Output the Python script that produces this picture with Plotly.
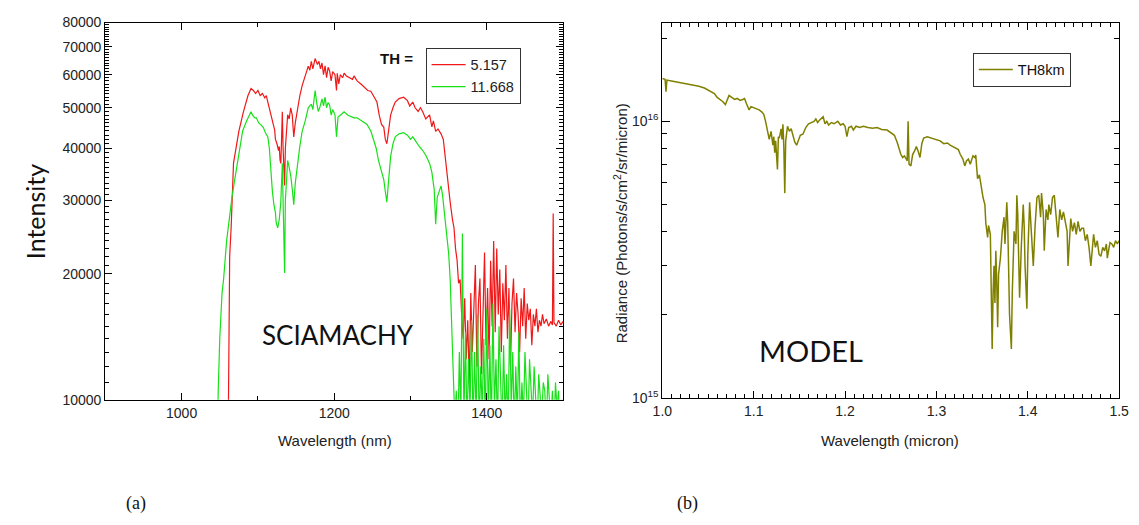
import plotly.graph_objects as go

# ---------------- Panel (a): SCIAMACHY ----------------
red_nm = [1055, 1060, 1061, 1063, 1065, 1068, 1072, 1075, 1081, 1087, 1091, 1094, 1097, 1100, 1103,
          1106, 1109, 1111, 1113, 1114, 1117, 1120, 1122, 1123, 1125, 1127, 1128, 1129, 1130, 1131,
          1132, 1133, 1135, 1136, 1139, 1141, 1143, 1145, 1147, 1149, 1152, 1155, 1158, 1160, 1162,
          1164, 1166, 1168, 1170, 1172, 1175, 1178, 1180, 1182, 1184, 1186, 1188, 1190, 1192, 1194,
          1196, 1198, 1201, 1203, 1204, 1206, 1208, 1211, 1213, 1216, 1220, 1224, 1226, 1230, 1235,
          1240, 1244, 1248, 1252, 1256, 1259, 1262, 1265, 1267, 1269, 1271, 1274, 1277, 1280, 1285,
          1291, 1296, 1299, 1303, 1306, 1310, 1313, 1316, 1320, 1325, 1328, 1330, 1333, 1336, 1340,
          1343, 1345, 1348, 1350, 1352, 1355, 1357, 1359, 1361, 1363, 1365, 1367, 1369, 1371, 1373,
          1375, 1377, 1379, 1381, 1383, 1385, 1387, 1389, 1391, 1393, 1395, 1397, 1399, 1401, 1403,
          1405, 1407, 1409, 1411, 1413, 1415, 1417, 1419, 1421, 1423, 1425, 1427, 1429, 1431, 1433,
          1435, 1437, 1439, 1441, 1443, 1445, 1447, 1449, 1451, 1453, 1455, 1457, 1459, 1461, 1463,
          1465, 1467, 1469, 1471, 1473, 1475, 1478, 1481, 1484, 1486, 1487, 1488, 1491, 1494, 1497,
          1500]
red_val = [8000, 8000, 8000, 22000, 26000, 36800, 41000, 43900, 48900, 53500, 55600, 55000, 54100, 55000, 53500,
           54100, 52800, 53500, 51600, 50700, 48000, 45600, 44200, 42000, 41000, 39500, 40400, 37500, 36800, 42000,
           48900, 40000, 32600, 40000, 48100, 47000, 50000, 48000, 42600, 46000, 50000, 53500, 56500, 58500, 59600,
           61200, 62900, 61500, 64600, 62000, 65600, 63500, 64600, 62000, 64000, 60000, 63000, 59000, 62500, 61200,
           58000, 61000, 60000, 55000, 60500, 57000, 60000, 59000, 60500, 59600, 59000, 58500, 59600, 58000, 57000,
           56000, 55000, 54800, 53000, 51600, 48000, 45600, 44900, 42000, 41000, 44000, 48100, 50000, 51600, 52600,
           53000, 52000, 50500, 51600, 50000, 49000, 50000, 48900, 47000, 48100, 45000, 46500, 43900, 44500, 43300,
           42000, 38900, 34400, 31000, 29700, 27000, 25800, 23000, 21600, 19000, 19400, 16000, 14000, 17500, 12500,
           15500, 11000, 18000, 13000, 16500, 21000, 12000, 17000, 19500, 11500, 16000, 22500, 13500, 18500, 12500,
           21500, 15000, 24000, 14500, 23000, 16000, 20500, 13000, 19000, 15500, 21000, 14000, 18500, 12000, 17000,
           19500, 14500, 18000, 16000, 13000, 17500, 15000, 18500, 14000, 17000, 15500, 16500, 13500, 16000, 15000,
           16500, 14500, 15500, 15000, 16000, 15200, 15600, 15000, 15400, 15100, 27900, 15300, 15000, 15500, 15100,
           15400]

green_nm = [1044, 1047, 1048, 1050, 1053, 1055, 1059, 1063, 1066, 1069, 1072, 1076, 1080, 1085, 1088,
            1091, 1093, 1096, 1098, 1101, 1104, 1107, 1110, 1113, 1115, 1117, 1119, 1121, 1123, 1124,
            1126, 1128, 1130, 1132, 1133, 1135, 1136, 1139, 1141, 1143, 1145, 1147, 1149, 1152, 1155,
            1158, 1162, 1166, 1170, 1172, 1175, 1177, 1179, 1181, 1184, 1186, 1188, 1190, 1192, 1194,
            1196, 1198, 1201, 1203, 1205, 1208, 1213, 1218, 1222, 1226, 1230, 1236, 1243, 1248, 1252,
            1255, 1258, 1261, 1265, 1267, 1269, 1271, 1274, 1277, 1280, 1285, 1291, 1296, 1300, 1303,
            1307, 1311, 1316, 1320, 1325, 1328, 1331, 1333, 1335, 1338, 1340, 1342, 1344, 1346, 1348,
            1350, 1352, 1354, 1356, 1358, 1360, 1362, 1364, 1366, 1368, 1370, 1372, 1374, 1376, 1378,
            1380, 1382, 1384, 1386, 1388, 1390, 1392, 1394, 1396, 1398, 1400, 1402, 1404, 1406, 1408,
            1410, 1412, 1414, 1416, 1418, 1420, 1422, 1424, 1426, 1428, 1430, 1432, 1434, 1436, 1438,
            1440, 1442, 1444, 1446, 1448, 1450, 1452, 1454, 1456, 1458, 1460, 1462, 1464, 1466, 1468,
            1470, 1472, 1474, 1476, 1478, 1480, 1482, 1484, 1486, 1488, 1490, 1492, 1494, 1496, 1498,
            1500]
green_val = [8000, 8500, 10500, 14000, 18000, 19400, 24000, 27800, 30500, 33100, 36000, 40400, 44000, 46400, 47500,
             48900, 48000, 47300, 47300, 46000, 45500, 44900, 43500, 42600, 40000, 34900, 31500, 29300, 28000, 26500,
             25800, 27000, 29700, 36800, 30000, 20100, 30000, 37400, 36000, 34400, 32000, 29300, 33000, 36800, 40500,
             43900, 46500, 50000, 51000, 49500, 55000, 51500, 49000, 50000, 52500, 50500, 53000, 50000, 51500, 50700,
             48000, 49500, 48100, 42600, 47500, 48000, 48900, 48000, 47700, 47300, 47300, 46500, 45600, 44000, 41700,
             40000, 37400, 35500, 33600, 31500, 29700, 33000, 38300, 41000, 42600, 43300, 43600, 43000, 42000, 42600,
             41500, 40500, 39500, 38500, 36800, 35000, 31900, 26300, 30500, 31900, 32500, 30900, 28500, 25800, 23500,
             22400, 19400, 15000, 12000, 9000, 10500, 8000, 13000, 9000, 25000, 9000, 14500, 8500, 12500, 9500,
             15500, 8500, 13000, 9000, 16000, 8500, 12000, 9500, 14000, 8500, 16500, 9000, 13500, 8500, 17000,
             9500, 12500, 8500, 15000, 10000, 8500, 13500, 9000, 11500, 8500, 16500, 9500, 13000, 8500, 12000,
             9000, 14500, 8500, 11000, 9000, 13000, 10500, 8500, 12500, 11000, 9000, 12000, 10500, 8500, 11500,
             10000, 9000, 11000, 10500, 8500, 11500, 10000, 9000, 10500, 8500, 11000, 9500, 10500, 8500, 10000,
             9500]

a_yticks = [10000, 20000, 30000, 40000, 50000, 60000, 70000, 80000]
a_xticks = [1000, 1200, 1400]
legend_a = ["5.157", "11.668"]

# ---------------- Panel (b): MODEL ----------------
model_um = [1.000, 1.003, 1.004, 1.005, 1.010, 1.015, 1.020, 1.025, 1.030, 1.035, 1.040, 1.046, 1.050, 1.054, 1.057,
            1.060, 1.063, 1.066, 1.069, 1.071, 1.073, 1.076, 1.079, 1.082, 1.085, 1.088, 1.090, 1.092, 1.095, 1.097,
            1.100, 1.103, 1.106, 1.109, 1.111, 1.113, 1.114, 1.116, 1.117, 1.119, 1.121, 1.122, 1.123, 1.124, 1.126,
            1.127, 1.128, 1.130, 1.131, 1.132, 1.133, 1.134, 1.135, 1.137, 1.139, 1.141, 1.143, 1.145, 1.147, 1.149,
            1.151, 1.154, 1.157, 1.160, 1.163, 1.166, 1.168, 1.170, 1.172, 1.176, 1.178, 1.180, 1.182, 1.185, 1.188,
            1.192, 1.195, 1.198, 1.200, 1.202, 1.204, 1.207, 1.209, 1.212, 1.216, 1.220, 1.225, 1.230, 1.235, 1.240,
            1.246, 1.250, 1.254, 1.257, 1.259, 1.261, 1.263, 1.265, 1.267, 1.268, 1.269, 1.270, 1.272, 1.274, 1.276,
            1.278, 1.280, 1.282, 1.284, 1.286, 1.290, 1.294, 1.297, 1.300, 1.304, 1.308, 1.312, 1.315, 1.318, 1.321,
            1.324, 1.326, 1.329, 1.331, 1.333, 1.335, 1.337, 1.340, 1.342, 1.343, 1.345, 1.347, 1.349, 1.351, 1.353,
            1.354, 1.356, 1.357, 1.359, 1.360, 1.361, 1.362, 1.363, 1.364, 1.365, 1.366, 1.367, 1.368, 1.370, 1.372,
            1.374, 1.375, 1.377, 1.378, 1.379, 1.380, 1.382, 1.383, 1.385, 1.387, 1.388, 1.389, 1.390, 1.391, 1.393,
            1.395, 1.396, 1.397, 1.399, 1.400, 1.402, 1.404, 1.406, 1.408, 1.410, 1.412, 1.414, 1.415, 1.417, 1.418,
            1.420, 1.422, 1.423, 1.425, 1.427, 1.429, 1.431, 1.433, 1.435, 1.437, 1.439, 1.441, 1.443, 1.444, 1.446,
            1.447, 1.449, 1.451, 1.453, 1.455, 1.457, 1.459, 1.461, 1.463, 1.465, 1.467, 1.469, 1.471, 1.472, 1.474,
            1.476, 1.478, 1.480, 1.482, 1.484, 1.486, 1.487, 1.489, 1.490, 1.492, 1.494, 1.496, 1.498, 1.500]
model_val = [1.43e16, 1.42e16, 1.28e16, 1.41e16, 1.40e16, 1.39e16, 1.38e16, 1.37e16, 1.36e16, 1.355e16, 1.34e16, 1.32e16, 1.30e16, 1.28e16, 1.26e16,
             1.22e16, 1.20e16, 1.18e16, 1.15e16, 1.20e16, 1.24e16, 1.22e16, 1.20e16, 1.21e16, 1.19e16, 1.20e16, 1.21e16, 1.16e16, 1.10e16, 1.13e16,
             1.12e16, 1.11e16, 1.10e16, 1.08e16, 1.06e16, 1.00e16, 9.6e15, 9.0e15, 8.6e15, 9.2e15, 8.2e15, 8.8e15, 7.7e15, 8.5e15, 6.7e15,
             8.8e15, 8.7e15, 9.4e15, 8.6e15, 9.76e15, 8.0e15, 5.5e15, 8.5e15, 9.6e15, 9.2e15, 9.4e15, 8.8e15, 8.4e15, 8.2e15, 8.6e15,
             8.9e15, 9.0e15, 9.5e15, 9.8e15, 9.9e15, 1.0e16, 1.02e16, 9.9e15, 1.01e16, 1.04e16, 9.8e15, 1.0e16, 9.7e15, 9.9e15, 9.8e15,
             1.0e16, 9.7e15, 9.8e15, 9.6e15, 8.8e15, 9.5e15, 9.6e15, 9.3e15, 9.6e15, 9.5e15, 9.6e15, 9.5e15, 9.45e15, 9.5e15, 9.35e15,
             9.3e15, 9.1e15, 8.9e15, 8.4e15, 8.0e15, 7.6e15, 7.4e15, 7.5e15, 7.3e15, 7.2e15, 1.0e16, 7.0e15, 6.9e15, 7.6e15, 7.8e15,
             8.1e15, 7.8e15, 7.4e15, 8.3e15, 8.7e15, 8.8e15, 8.7e15, 8.65e15, 8.6e15, 8.5e15, 8.3e15, 8.35e15, 8.2e15, 8.1e15, 8.0e15,
             7.9e15, 7.6e15, 7.3e15, 6.9e15, 7.2e15, 7.3e15, 7.0e15, 7.5e15, 7.4e15, 7.55e15, 6.2e15, 6.4e15, 5.7e15, 5.3e15, 5.0e15,
             4.3e15, 3.8e15, 4.2e15, 3.9e15, 2.6e15, 1.5e15, 2.4e15, 3.0e15, 2.2e15, 3.4e15, 2.6e15, 1.8e15, 2.8e15, 3.2e15, 4.0e15,
             4.5e15, 3.6e15, 5.1e15, 4.3e15, 3.0e15, 2.0e15, 1.5e15, 2.4e15, 4.0e15, 3.6e15, 5.4e15, 4.6e15, 3.2e15, 2.3e15, 3.6e15,
             5.0e15, 4.2e15, 3.0e15, 2.1e15, 3.3e15, 5.1e15, 4.0e15, 3.0e15, 4.2e15, 5.3e15, 5.4e15, 4.5e15, 5.5e15, 4.6e15, 3.4e15,
             4.8e15, 4.4e15, 5.0e15, 4.6e15, 5.3e15, 5.4e15, 4.5e15, 3.8e15, 4.8e15, 4.4e15, 4.7e15, 4.3e15, 4.0e15, 3.0e15, 4.2e15,
             4.45e15, 4.0e15, 4.3e15, 3.9e15, 4.35e15, 4.0e15, 4.1e15, 4.1e15, 3.7e15, 3.9e15, 3.5e15, 3.0e15, 3.6e15, 3.9e15, 3.5e15,
             3.7e15, 3.3e15, 3.25e15, 3.5e15, 3.4e15, 3.6e15, 3.2e15, 3.5e15, 3.64e15, 3.6e15, 3.5e15, 3.7e15, 3.6e15, 3.7e15]

b_yticks = [1e15, 1e16]
b_yticktext = ["10<sup>15</sup>", "10<sup>16</sup>"]
legend_b = "TH8km"

W, H = 1139, 525
AX = "Liberation Sans"

fig = go.Figure()
fig.add_trace(go.Scatter(x=red_nm, y=red_val, mode="lines", name=legend_a[0],
                         line=dict(color="#f01818", width=1.2), xaxis="x", yaxis="y", legend="legend"))
fig.add_trace(go.Scatter(x=green_nm, y=green_val, mode="lines", name=legend_a[1],
                         line=dict(color="#18e018", width=1.2), xaxis="x", yaxis="y", legend="legend"))
fig.add_trace(go.Scatter(x=model_um, y=model_val, mode="lines", name=legend_b,
                         line=dict(color="#808000", width=1.5), xaxis="x2", yaxis="y2", legend="legend2"))

common = dict(showline=True, linecolor="black", linewidth=1.3, mirror="ticks", ticks="inside",
              tickcolor="black", tickwidth=1.2, showgrid=False, zeroline=False,
              tickfont=dict(family=AX, size=14, color="#222"))

a_minor_y = [v * 1000 for v in range(11, 80) if v % 10 != 0]

fig.update_layout(
    width=W, height=H, margin=dict(l=0, r=0, t=0, b=0), autosize=False,
    paper_bgcolor="white", plot_bgcolor="white",
    xaxis=dict(domain=[97 / W, 563 / W], range=[900, 1500], tickvals=a_xticks, ticklen=7,
               minor=dict(tickmode="array", tickvals=[1100, 1300], ticklen=4, ticks="inside",
                          tickcolor="black", tickwidth=1.2),
               anchor="y", **common),
    yaxis=dict(domain=[(H - 404) / H, (H - 15) / H], type="log", range=[4, 4.90309],
               tickvals=a_yticks, ticktext=[str(v) for v in a_yticks], ticklen=7,
               minor=dict(tickmode="array", tickvals=a_minor_y, ticklen=4, ticks="inside",
                          tickcolor="black", tickwidth=1),
               anchor="x", **common),
    xaxis2=dict(domain=[664 / W, 1129 / W], range=[1.0, 1.5], dtick=0.1, tick0=1.0, tickformat=".1f",
                ticklen=7, minor=dict(dtick=0.01, tick0=1.0, ticklen=4, ticks="inside",
                                      tickcolor="black", tickwidth=1),
                anchor="y2", **common),
    yaxis2=dict(domain=[(H - 402) / H, (H - 15.7) / H], type="log", range=[15, 16.355],
                tickvals=b_yticks, ticktext=b_yticktext, ticklen=8,
                minor=dict(tickmode="array",
                           tickvals=[k * 1e15 for k in range(2, 10)] + [2e16],
                           ticklen=5, ticks="inside", tickcolor="black", tickwidth=1),
                anchor="x2", **common),
    legend=dict(x=423 / W, y=1 - 41 / H, xanchor="left", yanchor="top",
                bordercolor="#333", borderwidth=1, bgcolor="white",
                font=dict(family=AX, size=14.5, color="#222"), tracegroupgap=0,
                itemwidth=34),
    legend2=dict(x=980 / W, y=1 - 46 / H, xanchor="left", yanchor="top",
                 bordercolor="#333", borderwidth=1, bgcolor="white",
                 font=dict(family=AX, size=14.5, color="#111"), itemwidth=34),
    showlegend=True,
)

ann = [
    dict(text="<b>TH =</b>", x=393 / W, y=1 - 52 / H, font=dict(family=AX, size=15, color="#111"), xanchor="center"),
    dict(text="SCIAMACHY", x=334 / W, y=1 - 337 / H, font=dict(family="Lato", size=26, color="#111"), xanchor="center"),
    dict(text="MODEL", x=815 / W, y=1 - 353 / H, font=dict(family="Lato", size=29, color="#111"), xanchor="center"),
    dict(text="Intensity", x=25 / W, y=1 - 210 / H, textangle=-90, font=dict(family="Lato", size=25, color="#111"), xanchor="center"),
    dict(text="Wavelength (nm)", x=331 / W, y=1 - 446 / H, font=dict(family=AX, size=15, color="#222"), xanchor="center"),
    dict(text="Wavelength (micron)", x=896 / W, y=1 - 446 / H, font=dict(family=AX, size=15, color="#222"), xanchor="center"),
    dict(text="Radiance (Photons/s/cm<sup>2</sup>/sr/micron)", x=621 / W, y=1 - 222 / H, textangle=-90,
         font=dict(family=AX, size=15, color="#222"), xanchor="center"),
    dict(text="(a)", x=128 / W, y=1 - 511 / H, font=dict(family="Liberation Serif", size=18, color="#111"), xanchor="center"),
    dict(text="(b)", x=690 / W, y=1 - 511 / H, font=dict(family="Liberation Serif", size=18, color="#111"), xanchor="center"),
]
for a in ann:
    a.update(xref="paper", yref="paper", showarrow=False, yanchor="middle")
fig.update_layout(annotations=ann)

fig.write_html("out.html")
